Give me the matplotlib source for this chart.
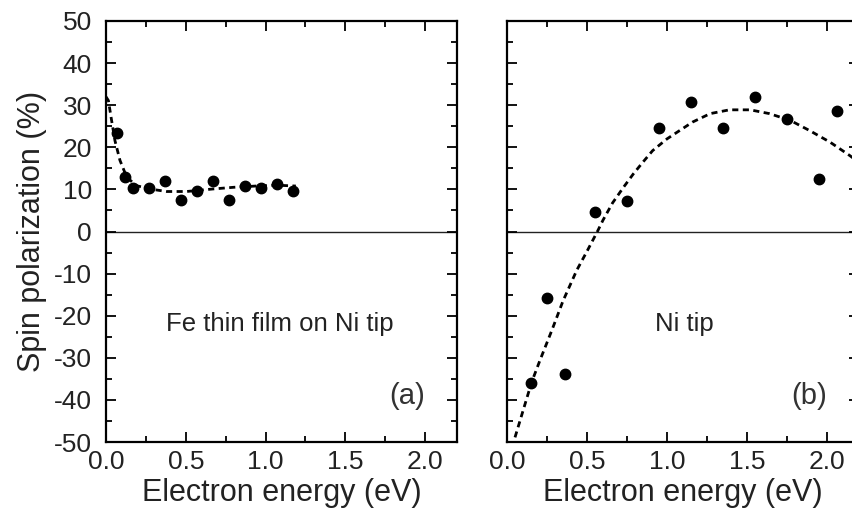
import numpy as np
import matplotlib
matplotlib.use("Agg")
import matplotlib.pyplot as plt
from matplotlib.ticker import MultipleLocator

plt.rcParams['font.family'] = ['Liberation Sans', 'DejaVu Sans']
plt.rcParams['axes.unicode_minus'] = False

# panel (a): Fe thin film on Ni tip
fe_x = [0.07, 0.12, 0.17, 0.27, 0.37, 0.47, 0.57, 0.67, 0.77, 0.87, 0.97, 1.07, 1.17]
fe_y = [23.4, 12.9, 10.4, 10.3, 12.1, 7.4, 9.6, 11.9, 7.6, 10.8, 10.3, 11.3, 9.7]
fe_fit_x = [0.0, 0.015, 0.035, 0.056, 0.0875, 0.13, 0.19, 0.275, 0.38, 0.505, 0.67, 0.8, 0.94, 1.07, 1.19]
fe_fit_y = [32.0, 31.1, 26.4, 21.6, 16.9, 12.9, 10.9, 10.1, 9.5, 9.5, 10.1, 10.5, 10.8, 11.0, 10.8]

# panel (b): Ni tip
ni_x = [0.15, 0.25, 0.36, 0.55, 0.75, 0.95, 1.15, 1.35, 1.55, 1.75, 1.95, 2.06]
ni_y = [-35.9, -15.9, -33.9, 4.6, 7.3, 24.5, 30.7, 24.5, 31.9, 26.7, 12.5, 28.7]
ni_fit_x = [0.05, 0.154, 0.206, 0.28, 0.35, 0.436, 0.5, 0.565, 0.60, 0.66, 0.73, 0.79, 0.85, 0.91, 1.0,
            1.08, 1.16, 1.27, 1.39, 1.52, 1.64, 1.77, 1.89, 2.02, 2.14, 2.25]
ni_fit_y = [-48.9, -35.8, -30.6, -23.5, -16.5, -9.2, -4.7, 0.0, 2.7, 6.8, 10.6, 13.7, 16.5, 19.2, 22.0,
            24.0, 26.0, 28.0, 28.9, 28.9, 28.0, 26.4, 24.0, 21.2, 18.1, 15.0]

fig = plt.figure(figsize=(8.52, 5.19), dpi=100)
W, H = 852, 519
ax1 = fig.add_axes([106 / W, (519 - 442) / H, 351 / W, 421 / H])
ax2 = fig.add_axes([507 / W, (519 - 442) / H, 352 / W, 421 / H])

for ax in (ax1, ax2):
    ax.set_xlim(0, 2.2)
    ax.set_ylim(-50, 50)
    ax.axhline(0, color='#222222', lw=1.0, zorder=1)
    ax.xaxis.set_major_locator(MultipleLocator(0.5))
    ax.xaxis.set_minor_locator(MultipleLocator(0.25))
    ax.yaxis.set_major_locator(MultipleLocator(10))
    ax.yaxis.set_minor_locator(MultipleLocator(5))
    ax.tick_params(which='both', direction='in', top=True, right=True, width=1.3, colors='black')
    ax.tick_params(which='major', length=7, labelsize=19, labelcolor='#222222')
    ax.tick_params(which='minor', length=4)
    ax.tick_params(axis='x', pad=6)
    ax.tick_params(axis='y', pad=10)
    ax.xaxis.set_major_formatter(plt.FuncFormatter(lambda v, p: f"{v:.1f}"))
    for s in ax.spines.values():
        s.set_linewidth(1.6)
    ax.set_xlabel('Electron energy (eV)', fontsize=22, color='#222222', labelpad=3)

ax1.plot(fe_fit_x, fe_fit_y, color='black', lw=2, dashes=(2.2, 1.6))
ax1.plot(fe_x, fe_y, 'o', color='black', ms=7.5)
ax1.set_ylabel('Spin polarization (%)', fontsize=22, color='#222222', labelpad=5)
ax1.text(1.09, -22, 'Fe thin film on Ni tip', fontsize=18.5, ha='center', va='center', color='#222222')
ax1.text(1.89, -39, '(a)', fontsize=21, ha='center', va='center', color='#333333')

ax2.plot(ni_fit_x, ni_fit_y, color='black', lw=2, dashes=(2.2, 1.6))
ax2.plot(ni_x, ni_y, 'o', color='black', ms=7.5)
ax2.tick_params(labelleft=False)
ax2.text(1.11, -22, 'Ni tip', fontsize=18.5, ha='center', va='center', color='#222222')
ax2.text(1.89, -39, '(b)', fontsize=21, ha='center', va='center', color='#333333')

fig.savefig('out.png', dpi=100)
